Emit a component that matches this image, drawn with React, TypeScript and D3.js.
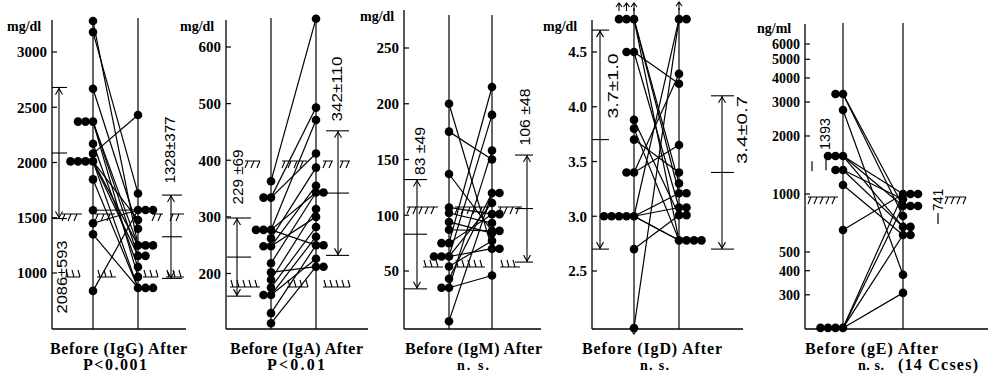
import React from 'react';
import * as d3 from 'd3';

// IgG, mg/dl (paired: before[i] -> after[i])
const iggBefore = [3280, 3180, 2667, 2370, 2370, 2370, 2170, 2080, 2010, 2010, 2010, 2010, 1847, 1568, 1450, 1350, 838];
const iggAfter = [1250, 1720, 1400, 1250, 965, 1155, 1055, 2430, 1250, 1155, 865, 1480, 865, 1570, 1570, 865, 1570];
const iggTicks = [1000, 1500, 2000, 2500, 3000];
const iggStats = [2086, 593, 1328, 377];

// IgA, mg/dl
const igaBefore = [363, 334, 334, 277, 277, 277, 262, 248, 248, 218, 202, 189, 175, 162, 162, 130, 112];
const igaAfter = [650, 493, 412, 471, 343, 250, 387, 355, 300, 343, 212, 314, 282, 265, 226, 250, 212];
const igaTicks = [200, 300, 400, 500, 600];
const igaStats = [229, 69, 342, 110];

// IgM, mg/dl
const igmBefore = [200, 175, 137, 107, 102, 94, 87, 75, 75, 63, 63, 63, 54, 43, 35, 35, 5];
const igmAfter = [70, 150, 86, 101, 93, 84, 86, 215, 101, 190, 70, 111, 77, 120, 158, 46, 120];
const igmTicks = [50, 100, 150, 200, 250];
const igmStats = [83, 49, 106, 48];

// IgD, mg/dl (4.8 = off scale above, 1.98 = off scale below)
const igdBefore = [4.8, 4.8, 4.8, 4.5, 4.5, 3.88, 3.8, 3.7, 3.4, 3.4, 3.0, 3.0, 3.0, 3.0, 3.0, 2.7, 1.98];
const igdAfter = [3.3, 3.21, 2.78, 4.21, 3.08, 3.01, 2.78, 3.4, 4.3, 3.65, 2.78, 2.78, 4.8, 3.21, 3.08, 3.01, 4.8];
const igdTicks = [2.5, 3.0, 3.5, 4.0, 4.5];
const igdStats = [3.7, 1.0, 3.4, 0.7];

// IgE, ng/ml (202 = below detection, drawn on baseline)
const igeBefore = [3300, 3300, 2725, 1574, 1574, 1574, 1332, 1332, 1113, 651, 202, 202, 202, 202];
const igeAfter = [867, 769, 381, 1000, 867, 675, 675, 940, 613, 1000, 1000, 867, 613, 307];
const igeTicks = [300, 400, 500, 1000, 2000, 3000, 4000, 5000, 6000];
const igeMarks = [1393, 741];

const SERIF = '"Liberation Serif", "DejaVu Serif", serif';
const SANS = '"Liberation Sans", Arial, sans-serif';
const BOTTOM = 329;
const STEP = 7.5;

type Scale = (v: number) => number;

interface Bracket { x: number; l: number; r: number; mean: number; sd: number; label: string; lx: number; ly: number; len: number }
interface Hatch { x1: number; x2: number; y: number; up?: boolean }

interface PanelCfg {
  y: Scale;
  axisX: number; axisTop: number; bottomEnd: number;
  beforeX: number; afterX: number; lineTop: number;
  ticks: number[]; fmt: (v: number) => string; tickSize: number;
  unit: string; unitX: number; unitY: number;
  before: number[]; after: number[];
  brackets: Bracket[];
  hatches: Hatch[];
  title: string; titleX: number; titleLen: number;
  sub: { t: string; x: number; len: number; size: number }[];
}

function offsets(vals: number[]) {
  const seen = new Map<number, number>();
  return vals.map(v => {
    const k = seen.get(v) ?? 0;
    seen.set(v, k + 1);
    return k;
  });
}

function hatchPath(h: Hatch) {
  let d = `M${h.x1},${h.y}H${h.x2}`;
  for (let x = h.x1 + 3; x <= h.x2; x += 6) {
    d += h.up ? `M${x},${h.y}L${x - 2},${h.y - 7}` : `M${x},${h.y}L${x - 3},${h.y + 7}`;
  }
  return d;
}

function Panel({ c }: { c: PanelCfg }) {
  const y = c.y;
  const ob = offsets(c.before);
  const oa = offsets(c.after);
  return (
    <g>
      {/* frame */}
      <line x1={c.axisX} x2={c.axisX} y1={c.axisTop} y2={BOTTOM} stroke="#000" strokeWidth={1.3} />
      <line x1={c.axisX} x2={c.bottomEnd} y1={BOTTOM} y2={BOTTOM} stroke="#000" strokeWidth={1.3} />
      <line x1={c.beforeX} x2={c.beforeX} y1={c.lineTop} y2={BOTTOM} stroke="#000" strokeWidth={1.2} />
      <line x1={c.afterX} x2={c.afterX} y1={c.lineTop} y2={BOTTOM} stroke="#000" strokeWidth={1.2} />
      {/* ticks */}
      {c.ticks.map(t => (
        <g key={t} transform={`translate(${c.axisX},${y(t)})`}>
          <line x1={0} x2={5} stroke="#000" strokeWidth={1.2} />
          <text x={-5} dy="0.35em" textAnchor="end" fontFamily={SERIF} fontWeight="bold" fontSize={c.tickSize}>{c.fmt(t)}</text>
        </g>
      ))}
      <text x={c.unitX} y={c.unitY} fontFamily={SERIF} fontWeight="bold" fontSize={14}>{c.unit}</text>
      {/* normal range hatches */}
      {c.hatches.map((h, i) => (
        <path key={i} d={hatchPath(h)} stroke="#000" strokeWidth={1.1} fill="none" />
      ))}
      {/* mean ± SD */}
      {c.brackets.map((b, i) => {
        const yt = y(b.mean + b.sd), ym = y(b.mean), yb = y(b.mean - b.sd);
        return (
          <g key={i} stroke="#000" strokeWidth={1.1} fill="none">
            <line x1={b.l} x2={b.r} y1={yt} y2={yt} />
            <line x1={b.l} x2={b.r} y1={ym} y2={ym} />
            <line x1={b.l} x2={b.r} y1={yb} y2={yb} />
            <line x1={b.x} x2={b.x} y1={yt} y2={yb} />
            <path d={`M${b.x - 3.5},${yt + 7}L${b.x},${yt + 1}L${b.x + 3.5},${yt + 7}`} />
            <path d={`M${b.x - 3.5},${yb - 7}L${b.x},${yb - 1}L${b.x + 3.5},${yb - 7}`} />
            <text transform={`translate(${b.lx},${b.ly}) rotate(-90)`} textAnchor="middle" dy="0.35em"
              fontFamily={SANS} fontSize={15} stroke="none" fill="#000" textLength={b.len} lengthAdjust="spacingAndGlyphs">{b.label}</text>
          </g>
        );
      })}
      {/* pair lines */}
      {c.before.map((b, i) => (
        <line key={i} x1={c.beforeX} y1={y(b)} x2={c.afterX} y2={y(c.after[i])} stroke="#000" strokeWidth={1.2} />
      ))}
      {c.before.map((b, i) => (
        <circle key={'b' + i} cx={c.beforeX - ob[i] * STEP} cy={y(b)} r={4.3} fill="#000" />
      ))}
      {c.after.map((a, i) => (
        <circle key={'a' + i} cx={c.afterX + oa[i] * STEP} cy={y(a)} r={4.3} fill="#000" />
      ))}
      {/* captions */}
      <text x={c.titleX} y={354} fontFamily={SERIF} fontWeight="bold" fontSize={16} textLength={c.titleLen} lengthAdjust="spacing">{c.title}</text>
      {c.sub.map((s, i) => (
        <text key={i} x={s.x} y={370} fontFamily={SERIF} fontWeight="bold" fontSize={s.size} textLength={s.len} lengthAdjust="spacing">{s.t}</text>
      ))}
    </g>
  );
}

const fmtInt = (v: number) => d3.format('d')(v);

export default function App() {
  const yG = d3.scaleLinear().domain([1000, 3000]).range([273, 52]);
  const yA = d3.scaleLinear().domain([200, 600]).range([273.5, 47]);
  const yM = d3.scaleLinear().domain([50, 250]).range([271, 48]);
  const yD = d3.scaleLinear().domain([2.5, 4.5]).range([271, 52]);
  const yE = d3.scaleLog().domain([1000, 6000]).range([194, 44]);

  const panels: PanelCfg[] = [
    {
      y: yG, axisX: 52, axisTop: 20, bottomEnd: 186, beforeX: 93, afterX: 138, lineTop: 18,
      ticks: iggTicks, fmt: fmtInt, tickSize: 15, unit: 'mg/dl', unitX: 7, unitY: 31,
      before: iggBefore, after: iggAfter,
      brackets: [
        { x: 59, l: 52, r: 67, mean: iggStats[0], sd: iggStats[1], label: `${iggStats[0]}±${iggStats[1]}`, lx: 62, ly: 277, len: 73 },
        { x: 171, l: 162, r: 182, mean: iggStats[2], sd: iggStats[3], label: `${iggStats[2]}±${iggStats[3]}`, lx: 170, ly: 150, len: 67 },
      ],
      hatches: [
        { x1: 62, x2: 82, y: 214 }, { x1: 95, x2: 115, y: 214 }, { x1: 152, x2: 163, y: 214 }, { x1: 170, x2: 184, y: 214 },
        { x1: 65, x2: 80, y: 277, up: true }, { x1: 97, x2: 116, y: 277, up: true }, { x1: 143, x2: 158, y: 277, up: true }, { x1: 166, x2: 184, y: 277, up: true },
      ],
      title: 'Before (IgG) After', titleX: 50, titleLen: 137,
      sub: [{ t: 'P<0.001', x: 83, len: 64, size: 16 }],
    },
    {
      y: yA, axisX: 226, axisTop: 20, bottomEnd: 368, beforeX: 271, afterX: 316, lineTop: 18,
      ticks: igaTicks, fmt: fmtInt, tickSize: 15, unit: 'mg/dl', unitX: 180, unitY: 31,
      before: igaBefore, after: igaAfter,
      brackets: [
        { x: 237, l: 227, r: 251, mean: igaStats[0], sd: igaStats[1], label: `${igaStats[0]} ±${igaStats[1]}`, lx: 238, ly: 177, len: 55 },
        { x: 338, l: 326, r: 349, mean: igaStats[2], sd: igaStats[3], label: `${igaStats[2]}±${igaStats[3]}`, lx: 337, ly: 89, len: 65 },
      ],
      hatches: [
        { x1: 245, x2: 260, y: 161 }, { x1: 282, x2: 307, y: 161 }, { x1: 323, x2: 333, y: 161 }, { x1: 340, x2: 350, y: 161 },
        { x1: 230, x2: 260, y: 287, up: true }, { x1: 287, x2: 308, y: 287, up: true }, { x1: 323, x2: 350, y: 287, up: true },
      ],
      title: 'Before (IgA) After', titleX: 230, titleLen: 133,
      sub: [{ t: 'P<0.01', x: 267, len: 58, size: 16 }],
    },
    {
      y: yM, axisX: 404, axisTop: 10, bottomEnd: 541, beforeX: 449, afterX: 492, lineTop: 15,
      ticks: igmTicks, fmt: fmtInt, tickSize: 15, unit: 'mg/dl', unitX: 360, unitY: 21,
      before: igmBefore, after: igmAfter,
      brackets: [
        { x: 417, l: 404, r: 427, mean: igmStats[0], sd: igmStats[1], label: `${igmStats[0]} ±${igmStats[1]}`, lx: 420, ly: 151, len: 48 },
        { x: 527, l: 515, r: 533, mean: igmStats[2], sd: igmStats[3], label: `${igmStats[2]} ±${igmStats[3]}`, lx: 525, ly: 117, len: 57 },
      ],
      hatches: [
        { x1: 407, x2: 438, y: 207 }, { x1: 455, x2: 488, y: 207 }, { x1: 498, x2: 522, y: 207 },
        { x1: 423, x2: 443, y: 267, up: true }, { x1: 455, x2: 485, y: 267, up: true }, { x1: 500, x2: 520, y: 267, up: true },
      ],
      title: 'Before (IgM) After', titleX: 405, titleLen: 137,
      sub: [{ t: 'n. s.', x: 457, len: 32, size: 14 }],
    },
    {
      y: yD, axisX: 592, axisTop: 20, bottomEnd: 743, beforeX: 634, afterX: 679, lineTop: 8,
      ticks: igdTicks, fmt: d3.format('.1f'), tickSize: 15, unit: 'mg/dl', unitX: 543, unitY: 31,
      before: igdBefore, after: igdAfter,
      brackets: [
        { x: 600, l: 592, r: 609, mean: igdStats[0], sd: igdStats[1], label: `${igdStats[0].toFixed(1)}±${igdStats[1].toFixed(1)}`, lx: 613, ly: 86, len: 65 },
        { x: 722, l: 711, r: 734, mean: igdStats[2], sd: igdStats[3], label: `${igdStats[2].toFixed(1)}±${igdStats[3].toFixed(1)}`, lx: 742, ly: 130, len: 68 },
      ],
      hatches: [],
      title: 'Before (IgD) After', titleX: 582, titleLen: 140,
      sub: [{ t: 'n. s.', x: 640, len: 29, size: 14 }],
    },
    {
      y: yE, axisX: 805, axisTop: 24, bottomEnd: 988, beforeX: 843, afterX: 903, lineTop: 23,
      ticks: igeTicks, fmt: fmtInt, tickSize: 14, unit: 'ng/ml', unitX: 757, unitY: 33,
      before: igeBefore, after: igeAfter,
      brackets: [],
      hatches: [{ x1: 808, x2: 838, y: 197 }, { x1: 945, x2: 966, y: 197 }],
      title: 'Before (gE) After', titleX: 805, titleLen: 133,
      sub: [{ t: 'n. s.', x: 858, len: 26, size: 14 }, { t: '(14 Ccses)', x: 898, len: 80, size: 16 }],
    },
  ];

  const igd = panels[3];
  const arrowUp = (x: number, yy: number) => `M${x - 3},${yy + 4}L${x},${yy}L${x + 3},${yy + 4}M${x},${yy}V${yy + 8}`;

  return (
    <svg width={988} height={375} style={{ position: 'absolute', left: 0, top: 0, background: '#fff' }}>
      <rect width={988} height={375} fill="#fff" />
      {panels.map((p, i) => <Panel key={i} c={p} />)}
      {/* off-scale arrows, IgD */}
      <g stroke="#000" strokeWidth={1.1} fill="none">
        {[0, 1, 2].map(k => <path key={k} d={arrowUp(igd.beforeX - k * STEP, 3)} />)}
        <path d={arrowUp(igd.afterX, 2)} />
        <path d={`M${igd.beforeX - 3},${BOTTOM + 1}L${igd.beforeX},${BOTTOM + 5}L${igd.beforeX + 3},${BOTTOM + 1}`} />
      </g>
      {/* IgE mean marks */}
      <g stroke="#000" strokeWidth={1.2}>
        <line x1={812} x2={812} y1={yE(igeMarks[0]) - 5} y2={yE(igeMarks[0]) + 5} />
        <line x1={826} x2={826} y1={yE(igeMarks[0]) - 8} y2={yE(igeMarks[0]) + 4} />
        <line x1={938} x2={938} y1={yE(igeMarks[1]) - 6} y2={yE(igeMarks[1]) + 5} />
      </g>
      <text transform={`translate(825,134) rotate(-90)`} textAnchor="middle" dy="0.35em" fontFamily={SANS} fontSize={14} textLength={32} lengthAdjust="spacingAndGlyphs">{igeMarks[0]}</text>
      <text transform={`translate(938,200) rotate(-90)`} textAnchor="middle" dy="0.35em" fontFamily={SANS} fontSize={14} textLength={22} lengthAdjust="spacingAndGlyphs">{igeMarks[1]}</text>
    </svg>
  );
}
